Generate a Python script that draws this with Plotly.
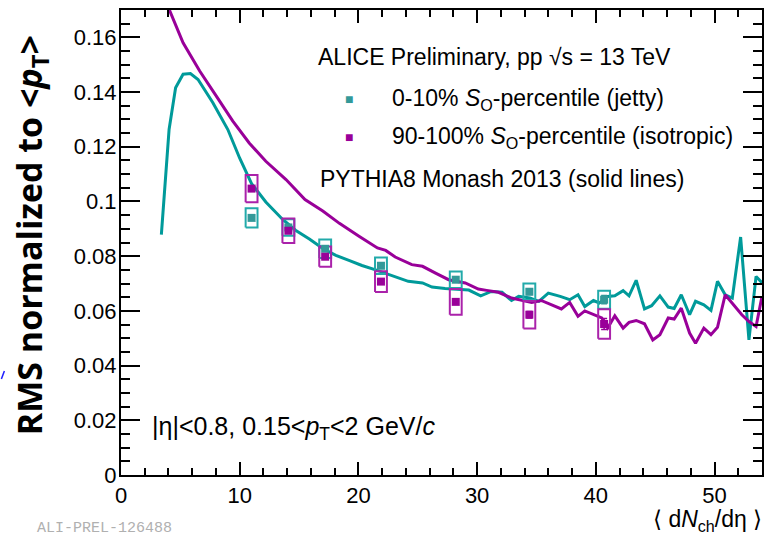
import plotly.graph_objects as go

# ---------------- data ----------------
# PYTHIA8 Monash 2013 curves
pyth_jetty_x = [3.4, 4.05, 4.6, 5.23, 5.85, 6.49, 7.74, 9.0, 10.0, 11.0, 12.2, 13.6, 14.7, 15.9,
                17.0, 18.1, 19.2, 20.3, 21.45, 22.85, 24.2, 25.4, 26.2, 27.3, 28.2, 29.3, 30.3,
                31.2, 32.1, 32.9, 33.5, 34.45, 35.2, 36.0, 37.0, 37.8, 38.5, 39.07, 39.8, 40.3,
                41.0, 41.6, 42.3, 42.8, 43.4, 44.1, 44.7, 45.4, 46.1, 46.6, 47.2, 47.9, 48.4,
                49.1, 49.7, 50.25, 50.9, 51.5, 52.2, 52.9, 53.5, 54.0]
pyth_jetty_y = [0.0879, 0.1263, 0.1416, 0.1465, 0.1468, 0.1446, 0.1361, 0.1263, 0.1158, 0.1065,
                0.0998, 0.0935, 0.0895, 0.0862, 0.0828, 0.0803, 0.0785, 0.0766, 0.0750, 0.0728,
                0.0708, 0.0702, 0.0687, 0.0682, 0.0680, 0.0676, 0.0655, 0.0671, 0.0668, 0.0638,
                0.0653, 0.0647, 0.0635, 0.0665, 0.0653, 0.0641, 0.0659, 0.0616, 0.0638, 0.0629,
                0.0653, 0.0655, 0.0674, 0.0655, 0.0712, 0.0607, 0.0619, 0.0655, 0.0614, 0.0609,
                0.0659, 0.0586, 0.0635, 0.0622, 0.0602, 0.0708, 0.0659, 0.0647, 0.0870, 0.0494,
                0.0726, 0.0703]

pyth_iso_x = [3.4, 4.05, 5.23, 6.63, 8.03, 9.42, 10.8, 12.2, 13.9, 15.5, 17.0, 18.4, 20.05, 21.6,
              22.3, 23.1, 24.5, 25.4, 26.5, 27.6, 29.0, 30.1, 30.8, 31.8, 32.9, 34.6, 35.4, 37.1,
              37.8, 38.5, 39.07, 40.5, 41.0, 41.6, 42.3, 42.8, 43.4, 44.1, 44.8, 45.4, 46.1, 46.6,
              47.2, 47.9, 48.4, 49.1, 49.7, 50.25, 50.9, 51.6, 52.3, 52.9, 53.5, 54.0]
pyth_iso_y = [0.1780, 0.1703, 0.1580, 0.1477, 0.1385, 0.1294, 0.1214, 0.1147, 0.1080, 0.1007,
              0.0965, 0.0920, 0.0873, 0.0830, 0.0821, 0.0797, 0.0769, 0.0763, 0.0738, 0.0714,
              0.0702, 0.0680, 0.0675, 0.0668, 0.0647, 0.0631, 0.0638, 0.0607, 0.0631, 0.0580,
              0.0600, 0.0574, 0.0537, 0.0582, 0.0537, 0.0558, 0.0565, 0.0553, 0.0494, 0.0513,
              0.0574, 0.0570, 0.0610, 0.0519, 0.0482, 0.0537, 0.0513, 0.0540, 0.0659, 0.0622,
              0.0586, 0.0561, 0.0543, 0.0653]

# ALICE data points
data_x = [11.0, 14.1, 17.2, 21.9, 28.2, 34.4, 40.7]
jetty_y = [0.0940, 0.0905, 0.0827, 0.0765, 0.0714, 0.0670, 0.0641]
jetty_stat = [0.0003, 0.0003, 0.0004, 0.0005, 0.0008, 0.0010, 0.0015]
jetty_sys = [0.0035, 0.0030, 0.0034, 0.0030, 0.0030, 0.0030, 0.0033]
iso_y = [0.1047, 0.0893, 0.0798, 0.0707, 0.0633, 0.0586, 0.0552]
iso_stat = [0.0003, 0.0004, 0.0005, 0.0006, 0.0008, 0.0012, 0.0020]
iso_sys = [0.0050, 0.0045, 0.0037, 0.0038, 0.0047, 0.0050, 0.0054]
sys_dx = 0.5

y_ticks = [0, 0.02, 0.04, 0.06, 0.08, 0.1, 0.12, 0.14, 0.16]
y_tick_text = ["0", "0.02", "0.04", "0.06", "0.08", "0.1", "0.12", "0.14", "0.16"]
x_ticks = [0, 10, 20, 30, 40, 50]

# ---------------- style ----------------
TEAL_LINE = "#009a9a"
TEAL_MARK = "#339999"
TEAL_BOX = "#22aaaa"
MAG_LINE = "#990099"
MAG_MARK = "#990099"
MAG_BOX = "#aa22aa"
FONT = "Liberation Sans, Arial, sans-serif"


def box_path(xs, ys, dys, dx):
    px, py = [], []
    for x, y, dy in zip(xs, ys, dys):
        px += [x - dx, x + dx, x + dx, x - dx, x - dx, None]
        py += [y - dy, y - dy, y + dy, y + dy, y - dy, None]
    return px, py


fig = go.Figure()

fig.add_trace(go.Scatter(x=pyth_jetty_x, y=pyth_jetty_y, mode="lines",
                         line=dict(color=TEAL_LINE, width=3), hoverinfo="skip"))
fig.add_trace(go.Scatter(x=pyth_iso_x, y=pyth_iso_y, mode="lines",
                         line=dict(color=MAG_LINE, width=3), hoverinfo="skip"))

bx, by = box_path(data_x, jetty_y, jetty_sys, sys_dx)
fig.add_trace(go.Scatter(x=bx, y=by, mode="lines", line=dict(color=TEAL_BOX, width=2)))
bx, by = box_path(data_x, iso_y, iso_sys, sys_dx)
fig.add_trace(go.Scatter(x=bx, y=by, mode="lines", line=dict(color=MAG_BOX, width=2)))

fig.add_trace(go.Scatter(x=data_x, y=jetty_y, mode="markers",
                         marker=dict(symbol="square", size=8, color=TEAL_MARK),
                         error_y=dict(type="data", array=jetty_stat, color=TEAL_MARK,
                                      thickness=1.5, width=3)))
fig.add_trace(go.Scatter(x=data_x, y=iso_y, mode="markers",
                         marker=dict(symbol="square", size=8, color=MAG_MARK),
                         error_y=dict(type="data", array=iso_stat, color=MAG_MARK,
                                      thickness=1.5, width=3)))

axis_common = dict(showline=True, linecolor="black", linewidth=2, mirror="ticks",
                   ticks="inside", tickcolor="black", tickwidth=2, showgrid=False,
                   zeroline=False, tickfont=dict(family=FONT, size=22, color="black"))

fig.update_xaxes(range=[0, 54], tickvals=x_ticks, ticklen=13,
                 minor=dict(dtick=2, tick0=0, ticklen=7, ticks="inside", tickwidth=2,
                            tickcolor="black", showgrid=False),
                 **axis_common)
fig.update_yaxes(range=[0, 0.17], tickvals=y_ticks, ticktext=y_tick_text, ticklen=19,
                 ticklabelstandoff=-2,
                 minor=dict(dtick=0.005, tick0=0, ticklen=9, ticks="inside", tickwidth=2,
                            tickcolor="black", showgrid=False),
                 **axis_common)

annotations = [
    dict(text="ALICE Preliminary, pp √s = 13 TeV", x=317, y=57, font_size=23),
    dict(text="■", x=344, y=99, font_size=14, font_color=TEAL_MARK),
    dict(text="0-10% <i>S</i><sub>O</sub>-percentile (jetty)", x=391, y=99, font_size=23),
    dict(text="■", x=344, y=137, font_size=14, font_color=MAG_MARK),
    dict(text="90-100% <i>S</i><sub>O</sub>-percentile (isotropic)", x=391, y=137, font_size=23),
    dict(text="PYTHIA8 Monash 2013 (solid lines)", x=319, y=179, font_size=23),
    dict(text="|η|<0.8, 0.15<<i>p</i><sub>T</sub><2 GeV/<i>c</i>", x=150, y=428, font_size=25),
]
PL, PR, PT, PB = 121, 764, 10, 475
for a in annotations:
    fig.add_annotation(
        text=a["text"], xref="paper", yref="paper",
        x=(a["x"] - PL) / (PR - PL), y=(PB - a["y"]) / (PB - PT),
        xanchor="left", yanchor="middle", showarrow=False,
        font=dict(family=FONT, size=a["font_size"], color=a.get("font_color", "black")))

# axis titles
fig.add_annotation(text="⟨ d<i>N</i><sub>ch</sub>/dη ⟩", xref="paper", yref="paper",
                   x=1.0, y=(PB - 520) / (PB - PT), xanchor="right", yanchor="middle",
                   xshift=2, showarrow=False, font=dict(family=FONT, size=23, color="black"))
fig.add_annotation(text="<b>RMS normalized to <<i>p</i><sub>T</sub>></b>", xref="paper",
                   yref="paper", x=(31 - PL) / (PR - PL), y=(PB - 235) / (PB - PT),
                   xanchor="center", yanchor="middle", textangle=-90, showarrow=False,
                   font=dict(family="Open Sans, sans-serif", size=34, color="black"))
# watermark
fig.add_annotation(text="ALI-PREL-126488", xref="paper", yref="paper",
                   x=(35 - PL) / (PR - PL), y=(PB - 528) / (PB - PT), xanchor="left",
                   yanchor="middle", showarrow=False,
                   font=dict(family="Liberation Mono, monospace", size=15, color="#b0b0b0"))

# small blue stray mark on the left edge
fig.add_shape(type="line", xref="paper", yref="paper",
              x0=(1 - PL) / (PR - PL), y0=(PB - 379) / (PB - PT),
              x1=(4 - PL) / (PR - PL), y1=(PB - 371) / (PB - PT),
              line=dict(color="#2020ff", width=1.5))

fig.update_layout(width=771, height=534, margin=dict(l=PL, r=771 - PR, t=PT, b=534 - PB),
                  plot_bgcolor="white", paper_bgcolor="white", showlegend=False)

fig.write_html("out.html")
